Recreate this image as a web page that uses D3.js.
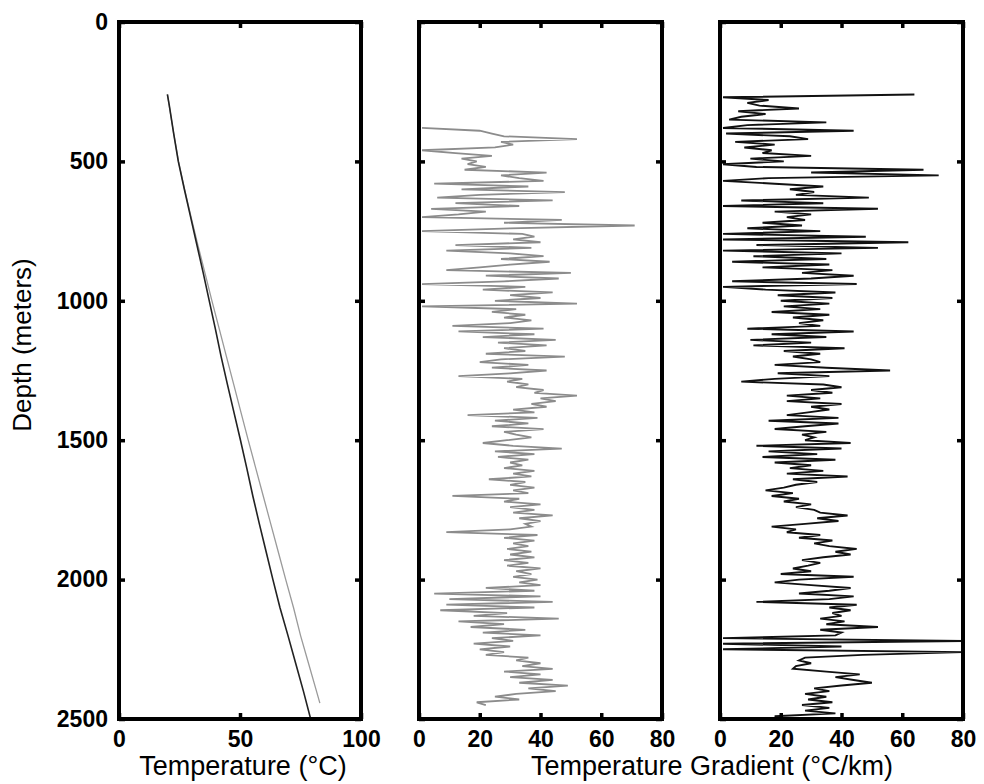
<!DOCTYPE html>
<html>
<head>
    <meta charset="utf-8">
    <script src="https://d3js.org/d3.v7.min.js"></script>
    <style>
        body { margin: 0; background: #fff; }
        svg text { font-family: "Liberation Sans", Arial, Helvetica, sans-serif; }
        .tick text { font-weight: bold; font-size: 23px; fill: #000; }
        .tick line { stroke: #000; stroke-width: 3.5; }
    </style>
</head>
<body>
    <div id="chart"></div>
    <script>
        // tick values
        var depthTicks = [0, 500, 1000, 1500, 2000, 2500];
        var tempTicks = [0, 50, 100];
        var gradTicks = [0, 20, 40, 60, 80];

        // temperature logs (depth m, deg C)
        var tempDepth = [260, 300, 400, 500, 600, 700, 800, 900, 1000, 1100, 1200, 1300,
            1400, 1500, 1600, 1700, 1800, 1900, 2000, 2100, 2200, 2300, 2400, 2500];
        var tempBlack = [20.0, 20.8, 22.6, 24.5, 27.0, 29.6, 32.2, 34.8, 37.3, 39.8, 42.2, 44.8,
            47.5, 50.2, 52.8, 55.3, 58.0, 60.8, 63.6, 66.5, 69.8, 73.0, 76.2, 79.2];
        var tempGrayDepth = [260, 400, 500, 600, 700, 800, 900, 1000, 1100, 1200, 1300, 1400,
            1500, 1600, 1700, 1800, 1900, 2000, 2100, 2200, 2300, 2400, 2443];
        var tempGray = [20.0, 22.6, 24.6, 27.1, 29.8, 32.6, 35.5, 38.4, 41.4, 44.4, 47.4, 50.4,
            53.4, 56.5, 59.6, 62.7, 65.8, 68.9, 72.1, 75.0, 78.3, 81.6, 83.0];

        // gradient log, gray (every 10 m from 380 m)
        var grayStart = 380, grayStep = 10;
        var gradGray = [
            1, 20, 24, 28, 52, 27, 31, 25, 1, 12,
            24, 14, 19, 16, 22, 15, 42, 27, 33, 41,
            5, 36, 14, 48, 20, 6, 44, 12, 33, 4,
            22, 13, 1, 47, 28, 71, 30, 1, 34, 38,
            31, 40, 12, 37, 9, 30, 41, 27, 43, 30,
            20, 9, 50, 22, 46, 28, 1, 35, 21, 44,
            30, 40, 25, 52, 1, 32, 24, 35, 28, 37,
            30, 11, 41, 13, 38, 21, 45, 26, 42, 28,
            35, 22, 48, 27, 20, 36, 24, 42, 30, 13,
            34, 29, 36, 32, 41, 38, 52, 40, 45, 37,
            42, 31, 38, 16, 39, 25, 36, 24, 41, 28,
            32, 37, 29, 21, 31, 47, 25, 38, 26, 36,
            30, 34, 28, 38, 31, 37, 23, 35, 30, 38,
            31, 36, 11, 33, 28, 40, 30, 38, 31, 44,
            33, 40, 35, 37, 30, 9, 39, 28, 38, 31,
            36, 29, 37, 30, 38, 28, 36, 29, 40, 32,
            37, 31, 39, 33, 40, 22, 38, 5, 40, 10,
            44, 9, 38, 7, 29, 18, 46, 13, 28, 17,
            35, 21, 40, 24, 31, 18, 30, 20, 28, 22,
            36, 32, 40, 34, 44, 28, 40, 30, 44, 33,
            49, 36, 45, 32, 25, 33, 19, 22
        ];

        // gradient log, black (every 10 m from 260 m)
        var blackStart = 260, blackStep = 10;
        var gradBlack = [
            64, 1, 16, 9, 13, 26, 6, 15, 7, 3,
            35, 9, 1, 44, 2, 23, 29, 5, 18, 8,
            17, 14, 30, 10, 21, 1, 12, 67, 30, 72,
            16, 1, 18, 34, 23, 31, 25, 49, 7, 34,
            1, 52, 18, 30, 22, 28, 14, 27, 9, 33,
            1, 48, 1, 62, 12, 52, 1, 40, 11, 35,
            4, 36, 14, 37, 27, 44, 30, 4, 45, 1,
            15, 38, 19, 37, 20, 36, 21, 33, 17, 36,
            24, 34, 26, 33, 9, 44, 17, 35, 10, 30,
            11, 41, 21, 33, 24, 30, 33, 18, 35, 56,
            19, 36, 18, 7, 34, 40, 30, 37, 22, 33,
            22, 40, 30, 36, 29, 22, 39, 16, 39, 28,
            18, 35, 27, 31, 28, 43, 12, 40, 16, 32,
            14, 38, 18, 30, 23, 34, 22, 42, 24, 32,
            25, 21, 15, 24, 17, 26, 21, 30, 25, 31,
            33, 42, 32, 39, 28, 17, 25, 22, 33, 26,
            37, 31, 36, 45, 38, 43, 34, 27, 33, 29,
            24, 30, 20, 44, 26, 18, 30, 43, 36, 26,
            44, 36, 12, 45, 36, 43, 37, 40, 33, 41,
            35, 52, 33, 40, 38, 1, 80, 1, 40, 1,
            80, 47, 28, 26, 30, 25, 24, 35, 46, 38,
            44, 50, 40, 31, 36, 28, 35, 29, 37, 27,
            36, 28, 38, 18, 22
        ];

        var W = 984, H = 784;
        var plotTop = 22, plotBottom = 719;
        var panels = [
            { left: 119, right: 361, domain: [0, 100], ticks: tempTicks },
            { left: 419, right: 662, domain: [0, 80], ticks: gradTicks },
            { left: 720, right: 963, domain: [0, 80], ticks: gradTicks }
        ];

        var svg = d3.select("#chart").append("svg")
            .attr("width", W)
            .attr("height", H);

        var y = d3.scaleLinear().domain([0, 2500]).range([plotTop, plotBottom]);

        panels.forEach(function (p, i) {
            p.x = d3.scaleLinear().domain(p.domain).range([p.left, p.right]);
            var g = svg.append("g");

            // clip
            svg.append("clipPath").attr("id", "clip" + i)
                .append("rect")
                .attr("x", p.left).attr("y", plotTop)
                .attr("width", p.right - p.left).attr("height", plotBottom - plotTop);
            p.plot = g.append("g").attr("clip-path", "url(#clip" + i + ")");

            // axes, ticks pointing inward
            g.append("g").attr("transform", "translate(" + p.left + ",0)")
                .call(d3.axisLeft(y).tickValues(depthTicks).tickSize(-6).tickPadding(11)
                    .tickFormat(i === 0 ? d3.format("d") : ""));
            g.append("g").attr("transform", "translate(" + p.right + ",0)")
                .call(d3.axisRight(y).tickValues(depthTicks).tickSize(-6).tickFormat(""));
            g.append("g").attr("transform", "translate(0," + plotBottom + ")")
                .call(d3.axisBottom(p.x).tickValues(p.ticks).tickSize(-6).tickPadding(12));
            g.append("g").attr("transform", "translate(0," + plotTop + ")")
                .call(d3.axisTop(p.x).tickValues(p.ticks).tickSize(-6).tickFormat(""));
            g.selectAll(".domain").remove();
        });

        function lineFor(x) {
            return d3.line()
                .x(function (d) { return x(d[1]); })
                .y(function (d) { return y(d[0]); });
        }

        // panel 1: temperature
        var p1 = panels[0];
        p1.plot.append("path")
            .datum(d3.zip(tempGrayDepth, tempGray))
            .attr("fill", "none")
            .attr("stroke", "#9a9a9a")
            .attr("stroke-width", 1.3)
            .attr("d", lineFor(p1.x));
        p1.plot.append("path")
            .datum(d3.zip(tempDepth, tempBlack))
            .attr("fill", "none")
            .attr("stroke", "#222")
            .attr("stroke-width", 1.6)
            .attr("d", lineFor(p1.x));

        // panel 2: gray gradient
        var p2 = panels[1];
        var grayDepth = gradGray.map(function (v, k) { return grayStart + k * grayStep; });
        p2.plot.append("path")
            .datum(d3.zip(grayDepth, gradGray))
            .attr("fill", "none")
            .attr("stroke", "#8c8c8c")
            .attr("stroke-width", 1.8)
            .attr("d", lineFor(p2.x));

        // panel 3: black gradient
        var p3 = panels[2];
        var blackDepth = gradBlack.map(function (v, k) { return blackStart + k * blackStep; });
        p3.plot.append("path")
            .datum(d3.zip(blackDepth, gradBlack))
            .attr("fill", "none")
            .attr("stroke", "#111")
            .attr("stroke-width", 1.9)
            .attr("d", lineFor(p3.x));

        // frames
        panels.forEach(function (p) {
            svg.append("rect")
                .attr("x", p.left).attr("y", plotTop)
                .attr("width", p.right - p.left).attr("height", plotBottom - plotTop)
                .attr("fill", "none")
                .attr("stroke", "#000")
                .attr("stroke-width", 4);
        });

        // axis titles
        svg.append("text")
            .attr("x", 243)
            .attr("y", 775)
            .attr("text-anchor", "middle")
            .style("font-size", "27px")
            .text("Temperature (°C)");

        svg.append("text")
            .attr("x", 712)
            .attr("y", 775)
            .attr("text-anchor", "middle")
            .style("font-size", "27px")
            .text("Temperature Gradient (°C/km)");

        svg.append("text")
            .attr("transform", "translate(31,345) rotate(-90)")
            .attr("text-anchor", "middle")
            .style("font-size", "26px")
            .text("Depth (meters)");
    </script>
</body>
</html>
